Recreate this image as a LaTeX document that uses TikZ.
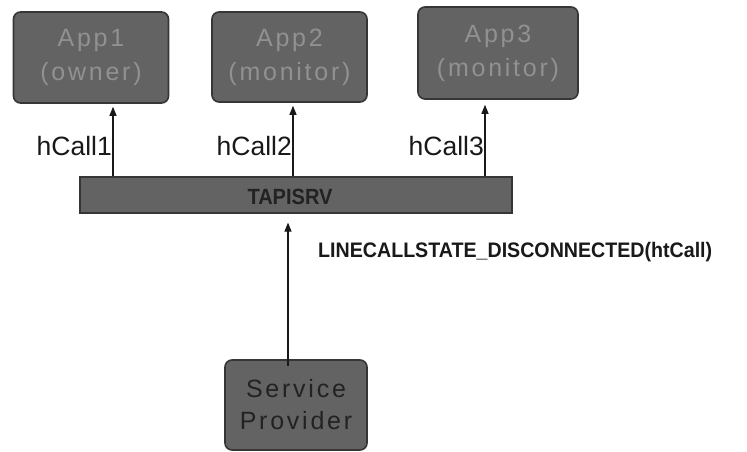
\documentclass[tikz,border=0pt]{standalone}
\usepackage{fontspec}
\usepackage{graphicx}
\setmainfont{Liberation Sans}
\newfontfamily\boxfont[LetterSpace=11]{Liberation Sans}
\usetikzlibrary{arrows.meta}
\definecolor{boxfill}{HTML}{636363}
\definecolor{boxline}{HTML}{363636}
\definecolor{apptext}{HTML}{919191}
\definecolor{darktext}{HTML}{222222}
\tikzset{
  appbox/.style={draw=boxline, line width=1.6pt, fill=boxfill, rounded corners=7pt, inner sep=0pt},
  arr/.style={line width=1.1pt, draw=black!90, -{Triangle[length=9pt,width=7pt]}},
  callabel/.style={inner sep=0pt, font=\fontsize{26.5}{26.5}\selectfont, text=black!90},
}
\begin{document}
\begin{tikzpicture}[x=1pt,y=-1pt]
\useasboundingbox (0,0) rectangle (747,452);
\fill[white] (0,0) rectangle (747,452);
% app boxes
\node[appbox, minimum width=155pt, minimum height=91pt] (app1) at (91,57.5) {};
\node[appbox, minimum width=155pt, minimum height=90pt] (app2) at (289.5,57) {};
\node[appbox, minimum width=160pt, minimum height=92pt] (app3) at (498,53) {};
\node[text=apptext, align=center, font=\boxfont\fontsize{25}{34}\selectfont] (t1) at (app1) {App1\\(owner)};
\node[text=apptext, align=center, font=\boxfont\fontsize{25}{34}\selectfont] (t2) at (app2) {App2\\(monitor)};
\node[text=apptext, align=center, font=\boxfont\fontsize{25}{34}\selectfont] (t3) at (app3) {App3\\(monitor)};
% TAPISRV bar
\node[draw=boxline, line width=1.2pt, fill=boxfill, minimum width=432pt, minimum height=36pt, inner sep=0pt] (tapi) at (296,195) {};
\node[text=darktext, inner sep=0pt] (tapitext) at (290,197) {\resizebox{85pt}{\height}{\fontsize{22}{22}\selectfont\bfseries TAPISRV}};
% service provider
\node[appbox, minimum width=142pt, minimum height=90pt] (sp) at (296,405) {};
\node[text=darktext, align=center, font=\boxfont\fontsize{25}{32}\selectfont] (spt) at (sp) {Service\\Provider};
% arrow x positions
\coordinate (x1) at (113,0);
\coordinate (x2) at (293,0);
\coordinate (x3) at (485,0);
\coordinate (x4) at (288,0);
\draw[arr] (tapi.north -| x1) -- ([yshift=-3pt]app1.south -| x1);
\draw[arr] (tapi.north -| x2) -- ([yshift=-3pt]app2.south -| x2);
\draw[arr] (tapi.north -| x3) -- ([yshift=-5pt]app3.south -| x3);
\draw[arr] ([yshift=-7pt]sp.north -| x4) -- ([yshift=-9pt]tapi.south -| x4);
% labels
\node[callabel, anchor=east] (l1) at (112,146) {hCall1};
\node[callabel, anchor=east] (l2) at (292,146) {hCall2};
\node[callabel, anchor=east] (l3) at (484,146) {hCall3};
\node[inner sep=0pt, anchor=west, text=black!90] (msg) at (318,252) {\resizebox{394pt}{\height}{\fontsize{21}{21}\selectfont\bfseries LINECALLSTATE\_DISCONNECTED(htCall)}};
\end{tikzpicture}
\end{document}
